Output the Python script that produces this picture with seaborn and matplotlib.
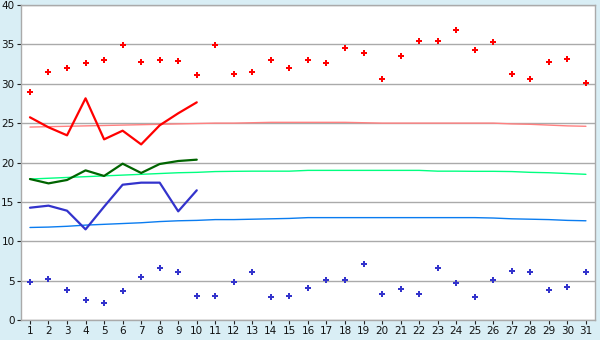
import numpy as np
import pandas as pd
import matplotlib
matplotlib.use("Agg")
import matplotlib.pyplot as plt
import seaborn as sns

days = list(range(1, 32))
obs_days = list(range(1, 11))

max_points = [29.0, 31.45, 31.96, 32.6, 32.97, 34.88, 32.72, 32.97, 32.85, 31.07,
              34.88, 31.2, 31.45, 32.97, 31.96, 32.97, 32.6, 34.6, 33.86, 30.56,
              33.5, 35.38, 35.38, 36.78, 34.24, 35.26, 31.2, 30.56, 32.72, 33.1, 30.05]
min_points = [4.78, 5.16, 3.77, 2.5, 2.12, 3.64, 5.42, 6.56, 6.05, 3.01,
              3.01, 4.78, 6.05, 2.88, 3.01, 4.02, 5.04, 5.04, 7.07, 3.26,
              3.9, 3.26, 6.56, 4.66, 2.88, 5.04, 6.18, 6.05, 3.77, 4.15, 6.05]

max_obs = [25.74, 24.47, 23.45, 28.15, 22.94, 24.04, 22.3, 24.72, 26.25, 27.64]
mean_obs = [17.9, 17.35, 17.78, 19.0, 18.29, 19.85, 18.67, 19.81, 20.19, 20.36]
min_obs = [14.26, 14.52, 13.88, 11.51, 14.39, 17.18, 17.44, 17.44, 13.8, 16.47]

max_norm = [24.5, 24.55, 24.6, 24.65, 24.7, 24.75, 24.8, 24.85, 24.9, 24.95,
            25.0, 25.0, 25.05, 25.1, 25.1, 25.1, 25.1, 25.1, 25.05, 25.0,
            25.0, 25.0, 25.0, 25.0, 25.0, 25.0, 24.9, 24.85, 24.75, 24.65, 24.6]
mean_norm = [17.9, 18.0, 18.1, 18.2, 18.3, 18.4, 18.5, 18.6, 18.7, 18.75,
             18.85, 18.88, 18.9, 18.9, 18.9, 19.0, 19.0, 19.0, 19.0, 19.0,
             19.0, 19.0, 18.9, 18.9, 18.88, 18.88, 18.85, 18.75, 18.7, 18.6, 18.5]
min_norm = [11.75, 11.8, 11.9, 12.05, 12.15, 12.25, 12.35, 12.5, 12.6, 12.65,
            12.75, 12.75, 12.8, 12.85, 12.9, 13.0, 13.0, 13.0, 13.0, 13.0,
            13.0, 13.0, 13.0, 13.0, 13.0, 12.95, 12.85, 12.8, 12.75, 12.65, 12.6]

y_ticks = [0, 5, 10, 15, 20, 25, 30, 35, 40]

sns.set_theme(style="white")
plt.rcParams['font.family'] = ['DejaVu Sans']

bg = "#D9EEF5"
fig = plt.figure(figsize=(6, 3.4), dpi=100, facecolor=bg)
ax = fig.add_axes([0.0345, 0.0588, 0.9575, 0.9265])
ax.set_facecolor("white")

for v in y_ticks:
    ax.axhline(v, color="#AAAAAA", lw=1.0, zorder=0)

sns.lineplot(x=days, y=max_norm, color="#FF8080", lw=1.0, ax=ax)
sns.lineplot(x=days, y=mean_norm, color="#00FF80", lw=1.0, ax=ax)
sns.lineplot(x=days, y=min_norm, color="#0A7CF0", lw=1.0, ax=ax)

sns.lineplot(x=obs_days, y=max_obs, color="#FF0000", lw=1.6, ax=ax)
sns.lineplot(x=obs_days, y=mean_obs, color="#006400", lw=1.6, ax=ax)
sns.lineplot(x=obs_days, y=min_obs, color="#3333CC", lw=1.6, ax=ax)

sns.scatterplot(x=days, y=max_points, color="#FF0000", marker="P", s=24,
                linewidth=0, ax=ax)
sns.scatterplot(x=days, y=min_points, color="#3333CC", marker="P", s=24,
                linewidth=0, ax=ax)

ax.set_xlim(0.5, 31.5)
ax.set_ylim(0, 40)
ax.set_xticks(days)
ax.set_xticklabels([str(d) for d in days])
ax.set_yticks(y_ticks)
ax.set_yticklabels([str(v) for v in y_ticks])
ax.tick_params(axis="both", which="both", direction="out", length=3, width=0.8,
               color="#222222", labelsize=7.5, labelcolor="#111111", pad=1.5,
               bottom=True, left=True)
for s in ax.spines.values():
    s.set_color("#AAAAAA")
    s.set_linewidth(1.0)
ax.set_xlabel("")
ax.set_ylabel("")
ax.grid(False)

fig.savefig("out.png", dpi=100, facecolor=bg)
